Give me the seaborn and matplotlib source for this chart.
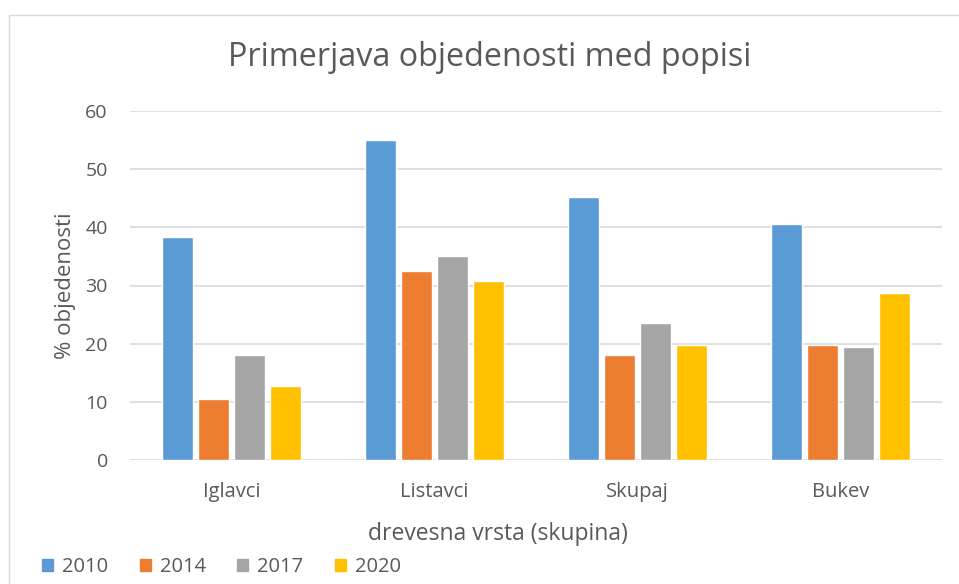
import pandas as pd
import matplotlib
matplotlib.use("Agg")
import matplotlib.pyplot as plt
import seaborn as sns
from matplotlib.patches import Rectangle

# podatki
skupine = ['Iglavci', 'Listavci', 'Skupaj', 'Bukev']
leta = ['2010', '2014', '2017', '2020']
v2010 = [38.4, 55.0, 45.3, 40.5]
v2014 = [10.5, 32.5, 18.1, 19.8]
v2017 = [18.1, 35.0, 23.6, 19.4]
v2020 = [12.8, 30.8, 19.8, 28.7]
barve = ['#5b9bd5', '#ed7d31', '#a5a5a5', '#ffc000']

df = pd.DataFrame({
    'skupina': skupine * 4,
    'leto': [l for l in leta for _ in skupine],
    'vrednost': v2010 + v2014 + v2017 + v2020,
})

sns.set_style('white')
plt.rcParams['font.family'] = ['Open Sans', 'DejaVu Sans']
siva = '#595959'

fig = plt.figure(figsize=(9.59, 5.84), dpi=100)
ax = fig.add_axes([130 / 959, 1 - 460 / 584, 812 / 959, 349 / 584])

sns.barplot(data=df, x='skupina', y='vrednost', hue='leto', hue_order=leta,
            palette=barve, width=0.71, ax=ax, legend=False, saturation=1)

# razmik med stolpci
for p in ax.patches:
    w = p.get_width()
    p.set_x(p.get_x() + w * 0.07)
    p.set_width(w * 0.86)

ax.set_ylim(0, 60)
ax.set_xlim(-0.5, 3.5)
ax.set_yticks(range(0, 61, 10))
ax.yaxis.grid(True, color='#d9d9d9', linewidth=1.2)
ax.set_axisbelow(True)
for s in ax.spines.values():
    s.set_visible(False)
ax.tick_params(axis='both', length=0, colors=siva)
ax.tick_params(axis='y', pad=16, labelsize=14)
ax.tick_params(axis='x', pad=16, labelsize=14.5)

ax.set_ylabel('% objedenosti', fontsize=16, color=siva, labelpad=7)
ax.set_xlabel('drevesna vrsta (skupina)', fontsize=16.5, color=siva)
ax.xaxis.set_label_coords(0.453, -0.178)
fig.text(0.511, 1 - 57 / 584, 'Primerjava objedenosti med popisi', ha='center',
         va='center', fontsize=23.3, color=siva)

handles = [Rectangle((0, 0), 1, 1, color=c) for c in barve]
fig.legend(handles, leta, loc='center left', bbox_to_anchor=(24 / 959, 1 - 567 / 584),
           ncol=4, frameon=False, fontsize=14.5, labelcolor=siva,
           handlelength=0.55, handleheight=0.55, handletextpad=0.45, columnspacing=1.55)

# okvir grafikona
fig.patches.append(Rectangle((9 / 959, -0.01), 1.1, 1 - 15 / 584 + 0.01, transform=fig.transFigure,
                             fill=False, edgecolor='#d9d9d9', linewidth=1))

fig.savefig('out.png', dpi=100)
